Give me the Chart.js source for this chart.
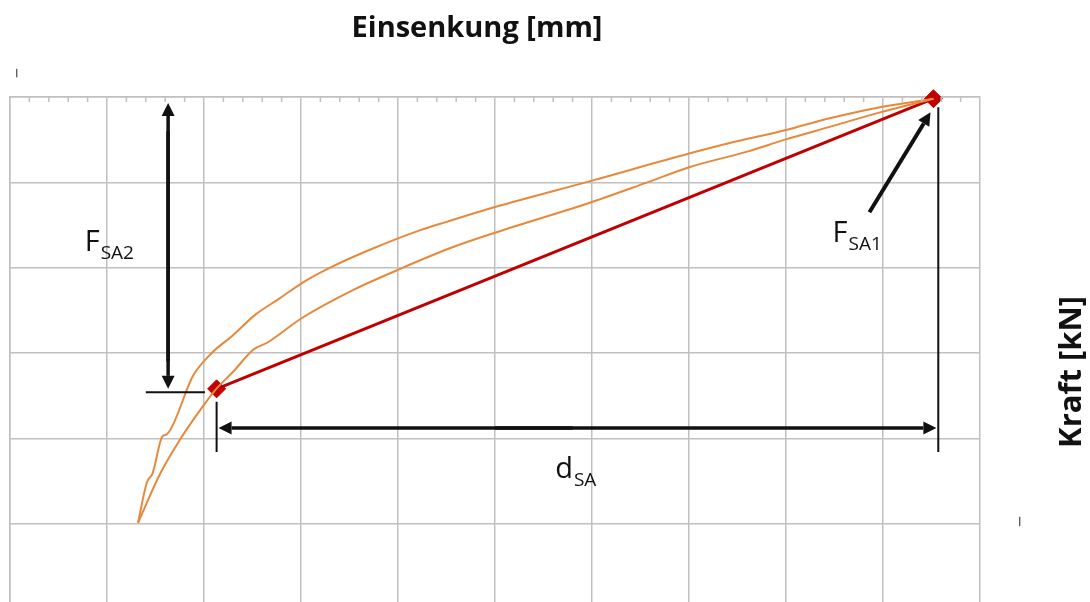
<!DOCTYPE html>
<html>
<head>
<meta charset="utf-8">
<script src="https://cdn.jsdelivr.net/npm/chart.js@4.4.0/dist/chart.umd.min.js"></script>
<style>
  html, body { margin: 0; padding: 0; background: #fff; overflow: hidden; height: 602px; }
  #wrap { width: 1090px; height: 620px; position: relative; }
</style>
</head>
<body>
<div id="wrap"><canvas id="kurve"></canvas></div>
<script>
// Achsen (Rasterteilung, ohne Beschriftung)
const xRange = [0, 10];
const yRange = [0, 6];

// Belastungskurve (obere)
const obenX = [1.32, 1.41, 1.47, 1.57, 1.62, 1.89, 2.08, 2.29, 2.53, 2.78, 3.01, 3.30, 3.71, 4.23, 4.51, 5.00, 6.00, 7.01, 7.42, 7.99, 8.45, 8.97, 9.52];
const obenY = [1.01, 1.48, 1.59, 2.02, 2.05, 2.74, 3.00, 3.20, 3.45, 3.64, 3.82, 4.00, 4.21, 4.44, 4.54, 4.71, 5.02, 5.34, 5.46, 5.61, 5.75, 5.88, 5.98];

// Entlastungskurve (untere)
const untenX = [1.32, 1.55, 1.75, 1.96, 2.12, 2.30, 2.51, 2.65, 3.01, 3.54, 3.99, 4.54, 5.00, 6.00, 6.57, 7.01, 7.60, 7.99, 8.45, 8.97, 9.52];
const untenY = [1.01, 1.59, 1.98, 2.33, 2.57, 2.78, 3.04, 3.12, 3.41, 3.74, 3.97, 4.23, 4.41, 4.77, 5.00, 5.18, 5.36, 5.50, 5.65, 5.82, 5.98];

// Sekante F_SA2 -> F_SA1
const sekanteX = [2.13, 9.52];
const sekanteY = [2.58, 5.98];

function punkte(xs, ys) {
    return xs.map(function (x, i) { return { x: x, y: ys[i] }; });
}

const grau = '#c0c0c0';
const schwarz = '#111';

function pfeil(ctx, x1, y1, x2, y2, breite) {
    const ang = Math.atan2(y2 - y1, x2 - x1);
    const len = 13, half = 6.5;
    const bx = x2 - Math.cos(ang) * len, by = y2 - Math.sin(ang) * len;
    ctx.beginPath();
    ctx.lineWidth = breite;
    ctx.moveTo(x1, y1);
    ctx.lineTo(bx, by);
    ctx.stroke();
    ctx.beginPath();
    ctx.moveTo(x2, y2);
    ctx.lineTo(bx - Math.sin(ang) * half, by + Math.cos(ang) * half);
    ctx.lineTo(bx + Math.sin(ang) * half, by - Math.cos(ang) * half);
    ctx.closePath();
    ctx.fill();
}

function index(ctx, haupt, sub, x, y) {
    ctx.textAlign = 'left';
    ctx.textBaseline = 'alphabetic';
    ctx.font = '29px "Open Sans", sans-serif';
    ctx.fillText(haupt, x, y);
    const w = ctx.measureText(haupt).width;
    ctx.font = '19px "Open Sans", sans-serif';
    ctx.fillText(sub, x + w + 1, y + 8);
}

const zusatz = {
    id: 'zusatz',
    afterDatasetsDraw: function (chart) {
        const ctx = chart.ctx;
        const sx = chart.scales.x, sy = chart.scales.y;
        const px = function (v) { return sx.getPixelForValue(v); };
        const py = function (v) { return sy.getPixelForValue(v); };
        ctx.save();

        // Hilfsstriche an der oberen Achse
        ctx.strokeStyle = grau;
        ctx.lineWidth = 1.5;
        for (let i = 1; i < 50; i++) {
            if (i % 5 === 0) continue;
            const x = px(i * 0.2);
            ctx.beginPath();
            ctx.moveTo(x, chart.chartArea.top);
            ctx.lineTo(x, chart.chartArea.top + 5);
            ctx.stroke();
        }

        ctx.strokeStyle = schwarz;
        ctx.fillStyle = schwarz;
        ctx.lineCap = 'butt';

        // F_SA2
        pfeil(ctx, px(1.63), py(2.9), px(1.63), py(5.93), 3.5);
        pfeil(ctx, px(1.63), py(5.6), px(1.63), py(2.58), 3.5);
        ctx.lineWidth = 2;
        ctx.beginPath();
        ctx.moveTo(px(1.40), py(2.54));
        ctx.lineTo(px(2.01), py(2.54));
        ctx.stroke();

        // d_SA
        ctx.lineWidth = 2;
        ctx.beginPath();
        ctx.moveTo(px(2.13), py(2.43));
        ctx.lineTo(px(2.13), py(1.84));
        ctx.moveTo(px(9.57), py(5.88));
        ctx.lineTo(px(9.57), py(1.84));
        ctx.stroke();
        pfeil(ctx, px(5.8), py(2.12), px(2.15), py(2.12), 3.5);
        pfeil(ctx, px(5.0), py(2.12), px(9.55), py(2.12), 3.5);

        // F_SA1
        pfeil(ctx, px(8.86), py(4.65), px(9.49), py(5.82), 4);

        // Beschriftungen
        index(ctx, 'F', 'SA2', px(0.77), py(4.20));
        index(ctx, 'F', 'SA1', px(8.48), py(4.30));
        index(ctx, 'd', 'SA', px(5.62), py(1.535));

        // kleine Striche
        ctx.strokeStyle = '#222';
        ctx.lineWidth = 1;
        ctx.beginPath();
        ctx.moveTo(px(0.07), py(6.23));
        ctx.lineTo(px(0.07), py(6.33));
        ctx.moveTo(px(10.41), py(0.97));
        ctx.lineTo(px(10.41), py(1.08));
        ctx.stroke();

        // Achsentitel
        ctx.fillStyle = schwarz;
        ctx.font = 'bold 29px "Open Sans", sans-serif';
        ctx.textAlign = 'center';
        ctx.textBaseline = 'alphabetic';
        ctx.fillText('Einsenkung [mm]', 477, 37);
        ctx.translate(1081, 372);
        ctx.rotate(-Math.PI / 2);
        ctx.font = 'bold 31px "Open Sans", sans-serif';
        ctx.fillText('Kraft [kN]', 0, 0);
        ctx.restore();
    }
};

new Chart(document.getElementById('kurve').getContext('2d'), {
    type: 'line',
    data: {
        datasets: [
            {
                label: 'Belastung',
                data: punkte(obenX, obenY),
                borderColor: '#e8883a',
                borderWidth: 2,
                pointRadius: 0,
                cubicInterpolationMode: 'monotone',
                fill: false
            },
            {
                label: 'Entlastung',
                data: punkte(untenX, untenY),
                borderColor: '#e8883a',
                borderWidth: 2,
                pointRadius: 0,
                cubicInterpolationMode: 'monotone',
                fill: false
            },
            {
                label: 'Sekante',
                data: punkte(sekanteX, sekanteY),
                borderColor: '#c00000',
                borderWidth: 3,
                pointStyle: 'rectRot',
                pointRadius: 9,
                pointBorderWidth: 1,
                pointBackgroundColor: '#c00000',
                pointBorderColor: '#c00000',
                tension: 0,
                clip: false,
                fill: false
            }
        ]
    },
    plugins: [zusatz],
    options: {
        responsive: true,
        maintainAspectRatio: false,
        animation: false,
        events: [],
        layout: { autoPadding: false, padding: { left: 10, top: 97, right: 110, bottom: 11 } },
        plugins: { legend: { display: false }, tooltip: { enabled: false } },
        scales: {
            x: {
                type: 'linear',
                position: 'top',
                min: xRange[0],
                max: xRange[1],
                ticks: { display: false, stepSize: 1 },
                grid: { color: grau, lineWidth: 1.5, drawTicks: false },
                border: { color: grau, width: 1.5 }
            },
            y: {
                type: 'linear',
                position: 'left',
                min: yRange[0],
                max: yRange[1],
                ticks: { display: false, stepSize: 1 },
                grid: { color: grau, lineWidth: 1.5, drawTicks: false },
                border: { color: grau, width: 1.5 }
            }
        }
    }
});
</script>
</body>
</html>
